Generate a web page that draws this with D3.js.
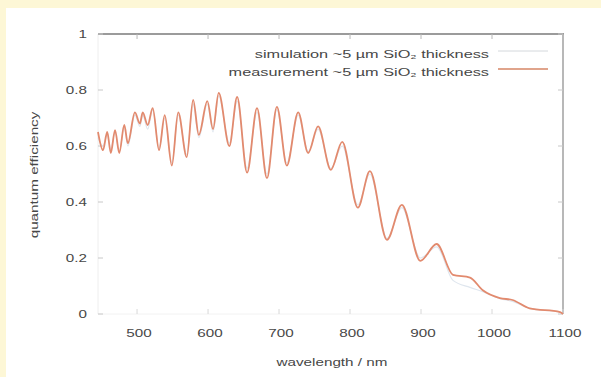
<!DOCTYPE html>
<html>
<head>
<meta charset="utf-8">
<script src="https://cdn.jsdelivr.net/npm/d3@7"></script>
<style>
  html, body { margin: 0; padding: 0; background: #fdf7d6; }
  svg { display: block; }
</style>
</head>
<body>
<svg id="chart" width="601" height="377"></svg>
<script>
// values
const wavelength = [445, 452, 458, 463, 469, 475, 482, 487, 497, 504, 508, 515, 522, 531, 539, 549, 558, 570, 579, 587, 599, 607, 615, 630, 641, 655, 669, 683, 697, 711, 727, 741, 755, 773, 789, 811, 828, 852, 873, 899, 922, 945, 969, 987, 1011, 1029, 1053, 1096, 1100];
const measurement = [0.65, 0.585, 0.65, 0.575, 0.657, 0.575, 0.675, 0.61, 0.72, 0.68, 0.72, 0.675, 0.735, 0.585, 0.71, 0.53, 0.72, 0.56, 0.765, 0.64, 0.76, 0.66, 0.79, 0.6, 0.775, 0.505, 0.735, 0.485, 0.74, 0.53, 0.72, 0.575, 0.67, 0.515, 0.615, 0.38, 0.51, 0.265, 0.39, 0.19, 0.25, 0.14, 0.13, 0.085, 0.057, 0.05, 0.02, 0.007, 0.0];
const simulation = [0.63, 0.6, 0.64, 0.59, 0.65, 0.58, 0.67, 0.6, 0.71, 0.67, 0.71, 0.66, 0.73, 0.59, 0.7, 0.54, 0.71, 0.57, 0.75, 0.63, 0.75, 0.65, 0.78, 0.61, 0.76, 0.52, 0.72, 0.5, 0.73, 0.54, 0.71, 0.58, 0.66, 0.52, 0.6, 0.39, 0.5, 0.27, 0.38, 0.2, 0.24, 0.12, 0.095, 0.08, 0.055, 0.045, 0.02, 0.006, 0.0];
const xTicks = [500, 600, 700, 800, 900, 1000, 1100];
const yTicks = [0, 0.2, 0.4, 0.6, 0.8, 1];
const legendLabels = ["simulation ~5 \u00b5m SiO\u2082 thickness", "measurement ~5 \u00b5m SiO\u2082 thickness"];

const svg = d3.select("#chart");

// white panel on the yellow page
svg.append("rect")
  .attr("x", 6).attr("y", 8)
  .attr("width", 595).attr("height", 369)
  .attr("fill", "#ffffff");

const x = d3.scaleLinear().domain([445, 1100]).range([98, 563]);
const y = d3.scaleLinear().domain([0, 1]).range([314, 34]);

const font = "'Liberation Sans', Arial, sans-serif";

// the original font runs wide, so stretch each label
function label(px, py, str, anchor, size, stretch) {
  const t = svg.append("text")
    .attr("x", px).attr("y", py)
    .attr("text-anchor", anchor).attr("dominant-baseline", "central")
    .style("font-family", font).style("font-size", size + "px").style("fill", "#474747")
    .text(str);
  const w = t.node().getComputedTextLength();
  t.attr("textLength", w * (stretch || 1.45)).attr("lengthAdjust", "spacingAndGlyphs");
  return t;
}

// faint left/bottom border, stronger top/right
svg.append("line")
  .attr("x1", 98).attr("x2", 98).attr("y1", 34).attr("y2", 314)
  .attr("stroke", "#eeeeee").attr("stroke-width", 1);
svg.append("line")
  .attr("x1", 98).attr("x2", 563).attr("y1", 314).attr("y2", 314)
  .attr("stroke", "#f2f2f2").attr("stroke-width", 1);
svg.append("line")
  .attr("x1", 98).attr("x2", 564).attr("y1", 34).attr("y2", 34)
  .attr("stroke", "#7a7a7a").attr("stroke-width", 1.5);
svg.append("line")
  .attr("x1", 563).attr("x2", 563).attr("y1", 34).attr("y2", 314)
  .attr("stroke", "#a0a0a0").attr("stroke-width", 1.5);

// ticks (inside, mirrored)
xTicks.forEach(t => {
  svg.append("line")
    .attr("x1", x(t)).attr("x2", x(t)).attr("y1", 314).attr("y2", 309)
    .attr("stroke", "#d8d8d8");
  svg.append("line")
    .attr("x1", x(t)).attr("x2", x(t)).attr("y1", 34).attr("y2", 39)
    .attr("stroke", "#b8b8b8");
  label(x(t) + 2, 333, t, "middle", 10.5);
});
yTicks.forEach(t => {
  svg.append("line")
    .attr("x1", 98).attr("x2", 103).attr("y1", y(t)).attr("y2", y(t))
    .attr("stroke", "#c8c8c8");
  svg.append("line")
    .attr("x1", 563).attr("x2", 558).attr("y1", y(t)).attr("y2", y(t))
    .attr("stroke", "#c8c8c8");
  label(87, y(t), t, "end", 10.5);
});

// axis titles
label(332, 362, "wavelength / nm", "middle", 10.5);
label(0, 0, "quantum efficiency", "middle", 10.5)
  .attr("transform", "translate(34,175) rotate(-90)");

// curves
const line = d3.line()
  .x(d => x(d[0])).y(d => y(d[1]))
  .curve(d3.curveMonotoneX);

svg.append("path")
  .datum(wavelength.map((w, i) => [w, simulation[i]]))
  .attr("d", line)
  .attr("fill", "none").attr("stroke", "#dfe6ee").attr("stroke-width", 1.2);

svg.append("path")
  .datum(wavelength.map((w, i) => [w, measurement[i]]))
  .attr("d", line)
  .attr("fill", "none").attr("stroke", "#e28a6e").attr("stroke-width", 1.8)
  .attr("stroke-linejoin", "round");

// legend
const legendColors = ["#d4d8dc", "#e0a48c"];
legendLabels.forEach((lab, i) => {
  const ly = 54 + i * 18;
  label(489, ly, lab, "end", 10.5, 1.55);
  svg.append("line")
    .attr("x1", 498).attr("x2", 548).attr("y1", ly - 3).attr("y2", ly - 3)
    .attr("stroke", legendColors[i]).attr("stroke-width", i ? 2 : 1);
});
</script>
</body>
</html>
